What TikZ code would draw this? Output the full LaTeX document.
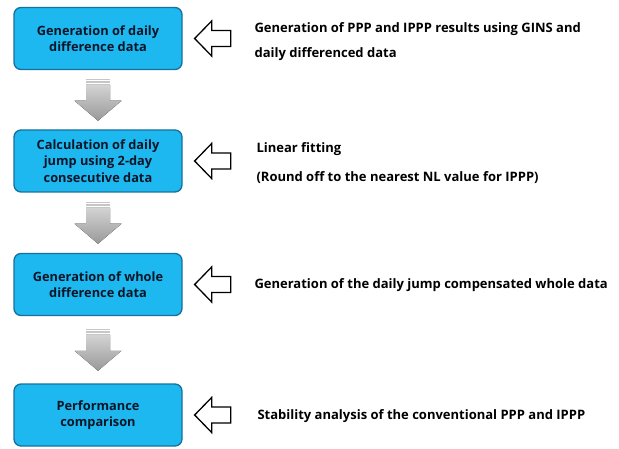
\documentclass[tikz,border=0pt]{standalone}
\usepackage{fontspec}
\setmainfont{Open Sans}
\usetikzlibrary{calc}
\definecolor{boxcyan}{RGB}{30,184,240}
\definecolor{boxedge}{RGB}{22,112,155}
\definecolor{boxtext}{RGB}{10,22,40}
\begin{document}
\begin{tikzpicture}[
        x=1pt, y=-1pt,
        box/.style={draw=boxedge, fill=boxcyan, rectangle, rounded corners=7pt, line width=1.3pt,
            minimum width=168pt, minimum height=62pt, align=center, text=boxtext,
            font=\fontsize{12.8}{16.5}\selectfont\bfseries},
        note/.style={anchor=west, align=left, font=\fontsize{13}{25}\selectfont\bfseries},
        hollow/.style={draw, fill=white, line width=1.3pt, line join=miter},
        flow/.style={top color=gray!35, bottom color=gray!80, draw=none}
    ]
        \useasboundingbox (0,0) rectangle (619,449);

        % Steps
        \node[box] (gen) at (98, 38.5) {Generation of daily\\difference data};
        \node[box] (jump) at (98, 161) {Calculation of daily\\jump using 2-day\\consecutive data};
        \node[box] (whole) at (98, 284.5) {Generation of whole\\difference data};
        \node[box] (perf) at (98, 415) {Performance\\comparison};

        % Notes
        \node[note] (gennote) at (251, 41.5) {Generation of PPP and IPPP results using GINS and\\daily differenced data};
        \node[note] (jumpnote) at (253, 163) {Linear fitting\\[4pt](Round off to the nearest NL value for IPPP)};
        \node[note] (wholenote) at (251, 285) {Generation of the daily jump compensated whole data};
        \node[note] (perfnote) at (254, 416) {Stability analysis of the conventional PPP and IPPP};

        % Hollow arrows
        \foreach \b in {gen, jump, whole, perf}
            \draw[hollow] ([xshift=12pt]\b.east) -- ++(17,-17.5) -- ++(0,9.5) -- ++(19,0)
                -- ++(0,16) -- ++(-19,0) -- ++(0,9.5) -- cycle;

        % Flow arrows
        \foreach \a/\b in {gen/jump, jump/whole, whole/perf} {
            \coordinate (m) at ($(\a.south)!0.5!(\b.north)$);
            \fill[flow] ($(m)+(-12,-14.5)$) -- ++(0,15.5) -- ++(-11.5,0) -- ++(23.5,20)
                -- ++(23.5,-20) -- ++(-11.5,0) -- ++(0,-15.5) -- cycle;
            \foreach \s in {-21, -18.6, -16.2}
                \fill[gray!45] ($(m)+(-12,\s)$) rectangle ++(24,1.4);
        }

    \end{tikzpicture}
\end{document}
